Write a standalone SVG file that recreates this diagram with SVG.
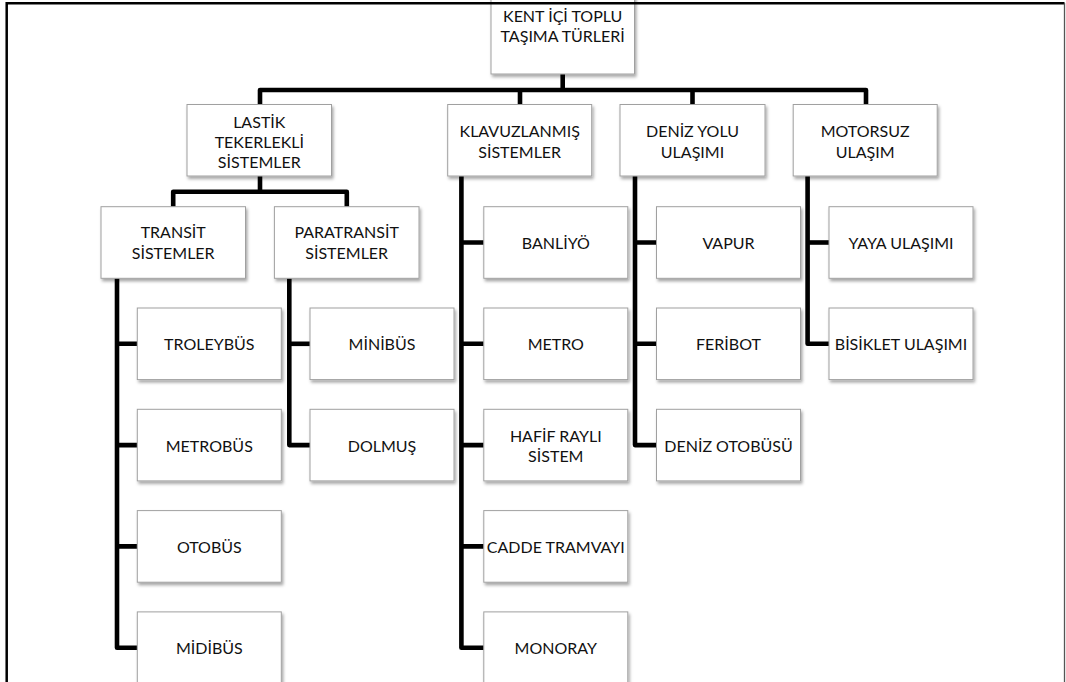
<svg xmlns="http://www.w3.org/2000/svg" width="1066" height="682" viewBox="0 0 1066 682">
<style>
.box{fill:#fff;stroke:#a0a0a0;stroke-width:1;filter:url(#sh)}
.t{font-family:Lato,"Liberation Sans",Arial,sans-serif;font-size:16px;fill:#111;text-anchor:middle;dominant-baseline:central}
.c{fill:none;stroke:#000;stroke-width:4.6;stroke-linejoin:round}
</style>
<defs>
<filter id="sh" x="-10%" y="-10%" width="130%" height="140%">
<feDropShadow dx="1.5" dy="2.5" stdDeviation="1.5" flood-color="#000" flood-opacity="0.35"/>
</filter>
</defs>
<rect x="0" y="0" width="1066" height="682" fill="#fff"/>

<g id="connectors">
<path class="c" d="M562.7 74 V90"/>
<path class="c" d="M260 104.5 V90 H866 V104.5"/>
<path class="c" d="M520 90 V104.5"/>
<path class="c" d="M692.5 90 V104.5"/>
<path class="c" d="M260 176 V191.7"/>
<path class="c" d="M173.2 206.7 V191.7 H346.8 V206.7"/>
<path class="c" d="M117 278.3 V647.7 H137.3"/>
<path class="c" d="M117 343.8 H137.3 M117 445.1 H137.3 M117 546.4 H137.3"/>
<path class="c" d="M289.3 278.3 V445.1 H310"/>
<path class="c" d="M289.3 343.8 H310"/>
<path class="c" d="M461.4 176 V647.7 H483.8"/>
<path class="c" d="M461.4 242.5 H483.8 M461.4 343.8 H483.8 M461.4 445.1 H483.8 M461.4 546.4 H483.8"/>
<path class="c" d="M635 176 V445.1 H656.5"/>
<path class="c" d="M635 242.5 H656.5 M635 343.8 H656.5"/>
<path class="c" d="M807.6 176 V343.8 H829"/>
<path class="c" d="M807.6 242.5 H829"/>
</g>

<g id="root"><rect class="box" x="491" y="-5" width="143.5" height="79"/><text class="t" x="562.7" y="15">KENT İÇİ TOPLU</text><text class="t" x="562.7" y="35.5">TAŞIMA TÜRLERİ</text></g>

<g id="lastik"><rect class="box" x="187" y="104.5" width="144.5" height="71.5"/><text class="t" x="259.3" y="121.7">LASTİK</text><text class="t" x="259.3" y="141.7">TEKERLEKLİ</text><text class="t" x="259.3" y="161.7">SİSTEMLER</text></g>
<g id="klavuz"><rect class="box" x="447.7" y="104.5" width="144" height="71.5"/><text class="t" x="519.7" y="130.5">KLAVUZLANMIŞ</text><text class="t" x="519.7" y="151">SİSTEMLER</text></g>
<g id="deniz"><rect class="box" x="620" y="104.5" width="145" height="71.5"/><text class="t" x="692.5" y="130.5">DENİZ YOLU</text><text class="t" x="692.5" y="151">ULAŞIMI</text></g>
<g id="motorsuz"><rect class="box" x="793.2" y="104.5" width="144" height="71.5"/><text class="t" x="865.2" y="130.5">MOTORSUZ</text><text class="t" x="865.2" y="151">ULAŞIM</text></g>

<g id="transit"><rect class="box" x="101" y="206.7" width="144.5" height="71.6"/><text class="t" x="173.2" y="231.7">TRANSİT</text><text class="t" x="173.2" y="252.3">SİSTEMLER</text></g>
<g id="paratransit"><rect class="box" x="274.4" y="206.7" width="144.6" height="71.6"/><text class="t" x="346.7" y="231.7">PARATRANSİT</text><text class="t" x="346.7" y="252.3">SİSTEMLER</text></g>

<g id="troleybus"><rect class="box" x="137.3" y="308" width="144" height="71.6"/><text class="t" x="209.3" y="343.8">TROLEYBÜS</text></g>
<g id="metrobus"><rect class="box" x="137.3" y="409.3" width="144" height="71.6"/><text class="t" x="209.3" y="445.1">METROBÜS</text></g>
<g id="otobus"><rect class="box" x="137.3" y="510.6" width="144" height="71.6"/><text class="t" x="209.3" y="546.4">OTOBÜS</text></g>
<g id="midibus"><rect class="box" x="137.3" y="611.9" width="144" height="80"/><text class="t" x="209.3" y="647.7">MİDİBÜS</text></g>

<g id="minibus"><rect class="box" x="310" y="308" width="144" height="71.6"/><text class="t" x="382" y="343.8">MİNİBÜS</text></g>
<g id="dolmus"><rect class="box" x="310" y="409.3" width="144" height="71.6"/><text class="t" x="382" y="445.1">DOLMUŞ</text></g>

<g id="banliyo"><rect class="box" x="483.8" y="206.7" width="144" height="71.6"/><text class="t" x="555.8" y="242.5">BANLİYÖ</text></g>
<g id="metro"><rect class="box" x="483.8" y="308" width="144" height="71.6"/><text class="t" x="555.8" y="343.8">METRO</text></g>
<g id="hafif"><rect class="box" x="483.8" y="409.3" width="144" height="71.6"/><text class="t" x="555.8" y="435">HAFİF RAYLI</text><text class="t" x="555.8" y="455">SİSTEM</text></g>
<g id="cadde"><rect class="box" x="483.8" y="510.6" width="144" height="71.6"/><text class="t" x="555.8" y="546.4">CADDE TRAMVAYI</text></g>
<g id="monoray"><rect class="box" x="483.8" y="611.9" width="144" height="80"/><text class="t" x="555.8" y="647.7">MONORAY</text></g>

<g id="vapur"><rect class="box" x="656.5" y="206.7" width="144" height="71.6"/><text class="t" x="728.5" y="242.5">VAPUR</text></g>
<g id="feribot"><rect class="box" x="656.5" y="308" width="144" height="71.6"/><text class="t" x="728.5" y="343.8">FERİBOT</text></g>
<g id="denizotobusu"><rect class="box" x="656.5" y="409.3" width="144" height="71.6"/><text class="t" x="728.5" y="445.1">DENİZ OTOBÜSÜ</text></g>

<g id="yaya"><rect class="box" x="829" y="206.7" width="144" height="71.6"/><text class="t" x="901" y="242.5">YAYA ULAŞIMI</text></g>
<g id="bisiklet"><rect class="box" x="829" y="308" width="144" height="71.6"/><text class="t" x="901" y="343.8">BİSİKLET ULAŞIMI</text></g>

<g id="frame">
<path d="M6.7 682 V3.3 H1064.5" fill="none" stroke="#000" stroke-width="2.5"/>
<path d="M1064.5 3 V682" fill="none" stroke="#555" stroke-width="1.3"/>
</g>
</svg>
